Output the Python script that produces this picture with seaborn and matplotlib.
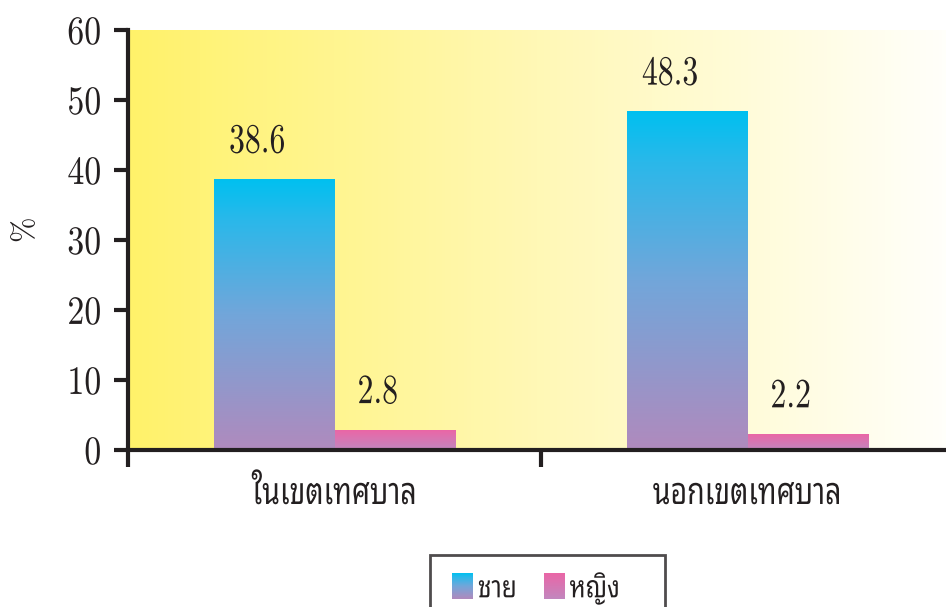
import numpy as np
import pandas as pd
import matplotlib
matplotlib.use("Agg")
import matplotlib.pyplot as plt
import seaborn as sns
from matplotlib import font_manager
from matplotlib.ft2font import FT2Font
from matplotlib.colors import LinearSegmentedColormap, Normalize
from matplotlib.patches import Rectangle
from matplotlib.path import Path
from matplotlib.legend_handler import HandlerBase
from matplotlib.image import BboxImage
from matplotlib.transforms import Bbox, TransformedBbox, Affine2D
from matplotlib.patheffects import AbstractPathEffect

# ---- data -------------------------------------------------------------
areas = ["ในเขตเทศบาล", "นอกเขตเทศบาล"]
sexes = ["ชาย", "หญิง"]
male_pct = [38.6, 48.3]
female_pct = [2.8, 2.2]
y_ticks = [0, 10, 20, 30, 40, 50, 60]
y_label = "%"

df = pd.DataFrame({
    "area": areas * 2,
    "sex": [sexes[0]] * len(areas) + [sexes[1]] * len(areas),
    "pct": male_pct + female_pct,
})


def find_thai_family():
    """Return the name of an installed font that covers Thai script."""
    names = []
    for f in font_manager.fontManager.ttflist:
        try:
            cmap = FT2Font(f.fname).get_charmap()
        except Exception:
            continue
        if all(cp in cmap for cp in (0x0E0A, 0x0E0D, 0x0E34, 0x0E40)):
            names.append(f.name)
    for pref in ("Noto Sans Thai Looped", "Sarabun", "Noto Serif Thai",
                 "Loma", "Garuda", "Norasi", "Kinnari", "Waree",
                 "Noto Sans Thai"):
        if pref in names:
            return pref
    return names[0] if names else "DejaVu Sans"


class Condensed(AbstractPathEffect):
    """Squeeze glyph outlines horizontally around a chosen anchor."""

    def __init__(self, sx, anchor="center"):
        super().__init__()
        self.sx = sx
        self.anchor = anchor

    def draw_path(self, renderer, gc, tpath, affine, rgbFace=None):
        ext = tpath.get_extents()
        cx = {"left": ext.x0, "right": ext.x1,
              "center": 0.5 * (ext.x0 + ext.x1)}[self.anchor]
        pre = Affine2D().translate(-cx, 0).scale(self.sx, 1).translate(cx, 0)
        renderer.draw_path(gc, tpath, pre + affine, rgbFace)


def wide_frame(x0, y0, width, height, mutation_size):
    """Legend box outline with extra room at the sides."""
    left, right, top = 7, 17, 2
    xa, xb = x0 - left, x0 + width + right
    yb = y0 + height + top
    return Path([(xa, y0), (xb, y0), (xb, yb), (xa, yb), (xa, y0)],
                closed=True)


sns.set_theme(style="white")
thai = find_thai_family()
num_font = "cmr10"
plt.rcParams["font.family"] = [thai, "DejaVu Sans"]
plt.rcParams["axes.formatter.use_mathtext"] = True
ink = "#231f20"

male_cmap = LinearSegmentedColormap.from_list(
    "male", [(0.0, "#b08abd"), (0.5, "#72a6da"), (0.85, "#2ab8ea"), (1.0, "#00c0f0")])
female_cmap = LinearSegmentedColormap.from_list(
    "female", [(0.0, "#c287bf"), (1.0, "#ea66a6")])
bg_cmap = LinearSegmentedColormap.from_list(
    "bg", ["#fff26a", "#fff8b6", "#fffffa"])

fig = plt.figure(figsize=(9.46, 6.07), dpi=100)
fig.patch.set_facecolor("white")
ax = fig.add_axes([128 / 946, 157 / 607, 818 / 946, 420 / 607])

sns.barplot(data=df, x="area", y="pct", hue="sex", hue_order=sexes,
            order=areas, width=0.584, ax=ax, legend=False,
            palette=["#55aee0", "#e070aa"], linewidth=0)

# soft yellow-to-white backdrop
ax.patch.set_visible(False)
ax.imshow(np.linspace(0, 1, 256).reshape(1, -1), cmap=bg_cmap,
          extent=(0, 1, 0, 1), transform=ax.transAxes, aspect="auto",
          interpolation="bilinear", zorder=0)

# vertical colour gradients inside each bar, value printed above
grad = np.linspace(0, 1, 256).reshape(-1, 1)
for container, cmap, vals in zip(ax.containers, [male_cmap, female_cmap],
                                 [male_pct, female_pct]):
    for bar, v in zip(container, vals):
        x0, w = bar.get_x(), bar.get_width()
        bar.set_facecolor("none")
        ax.imshow(grad, cmap=cmap, origin="lower", aspect="auto",
                  extent=(x0, x0 + w, 0, bar.get_height()),
                  interpolation="bilinear", zorder=2, vmin=0, vmax=1)
        t = ax.annotate(f"{v:.1f}", (x0 + w / 2, v), xytext=(-17, 38),
                        textcoords="offset pixels", ha="center", va="center",
                        fontsize=30, family=num_font, color=ink)
        t.set_path_effects([Condensed(0.76)])

ax.set_yticks(y_ticks)
ax.set_yticklabels([str(t) for t in y_ticks], family=num_font, fontsize=29,
                   color=ink)
ax.tick_params(axis="y", direction="out", length=10, width=3, pad=9,
               color=ink, left=True)

# category boundaries carry the tick marks, labels sit at the centres
ax.set_xticks([-0.5, 0.5, 1.5])
ax.set_xticklabels([])
ax.set_xticks([0, 1], minor=True)
ax.set_xticklabels(areas, minor=True, fontsize=27, color=ink)
ax.tick_params(axis="x", which="major", direction="out", length=12, width=3,
               color=ink, bottom=True)
ax.tick_params(axis="x", which="minor", length=0, pad=18)
ax.set_xlim(-0.5, -0.5 + 818 / 413)
ax.set_ylim(0, 60)
ax.set_xlabel("")
ax.set_ylabel(y_label, family=num_font, fontsize=22, color=ink, va="center")
ax.yaxis.set_label_coords(-0.126, 0.528)

for lab in ax.get_yticklabels():
    lab.set_path_effects([Condensed(0.84, "right")])
for lab in ax.get_xticklabels(minor=True):
    lab.set_path_effects([Condensed(0.76)])

for side in ("top", "right"):
    ax.spines[side].set_visible(False)
for side in ("left", "bottom"):
    ax.spines[side].set_color(ink)
    ax.spines[side].set_linewidth(3)
    ax.spines[side].set_zorder(5)


class GradientHandler(HandlerBase):
    def __init__(self, cmap):
        super().__init__()
        self.cmap = cmap

    def create_artists(self, legend, orig_handle, xdescent, ydescent,
                       width, height, fontsize, trans):
        bb = TransformedBbox(Bbox.from_bounds(-xdescent, -ydescent,
                                              width, height), trans)
        img = BboxImage(bb, cmap=self.cmap, interpolation="bilinear",
                        origin="lower", norm=Normalize(0, 1))
        img.set_data(np.linspace(0, 1, 64).reshape(-1, 1))
        return [img]


h_male = Rectangle((0, 0), 1, 1)
h_female = Rectangle((0, 0), 1, 1)
leg = fig.legend([h_male, h_female], sexes,
                 handler_map={h_male: GradientHandler(male_cmap),
                              h_female: GradientHandler(female_cmap)},
                 loc="upper left",
                 bbox_to_anchor=(437 / 946, 1 - 557 / 607),
                 ncol=2, fontsize=22, frameon=True, fancybox=False,
                 edgecolor=ink, borderpad=0.5, handlelength=0.68,
                 handleheight=0.9, handletextpad=0.15, columnspacing=0.58,
                 borderaxespad=0)
leg.get_frame().set_linewidth(2)
leg.get_frame().set_boxstyle(wide_frame)
for t in leg.get_texts():
    t.set_color(ink)
    t.set_path_effects([Condensed(0.8, "left")])

fig.savefig("out.png", dpi=100, facecolor="white")
